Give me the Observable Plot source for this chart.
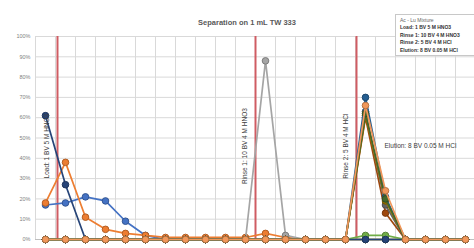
<!DOCTYPE html>
<html><head><meta charset="utf-8">
<script src="https://cdn.jsdelivr.net/npm/d3@7"></script>
<script src="https://cdn.jsdelivr.net/npm/@observablehq/plot@0.6"></script>
<style>
body{margin:0;background:#fff;font-family:"Liberation Sans",Arial,sans-serif}
#wrap{position:relative;width:474px;height:248px;overflow:hidden}
#legend{position:absolute;left:395px;top:14px;width:82px;height:42px;border:1px solid #c8c8c8;background:#fff;font-size:5px;line-height:7.4px;padding:2px 4px;box-sizing:border-box;color:#333;white-space:nowrap}
#legend div{font-weight:bold}
#legend div:first-child{font-weight:normal;color:#666}
</style></head><body><div id="wrap"><div id="legend"></div></div>
<script>
const titleText = "Separation on 1 mL TW 333";
const fractions = d3.range(1, 23);
const seriesNames = ["S1","S2","S3","S4","S5","S6","S7","S8","S9","S10","S11","S12","S13"];
const seriesColors = ["#4472C4","#ED7D31","#A5A5A5","#FFC000","#5B9BD5","#70AD47","#264478","#9E480E","#636363","#997300","#255E91","#43682B","#F1975A"];
const s1  = [17,18,21,19,9,2,0,0,0,0,0,0,0,0,0,0,0,0,0,0,0,0];
const s2  = [18,38,11,5,3,2,1,1,1,1,1,3,1,0,0,0,0,0,0,0,0,0];
const s3  = [0,0,0,0,0,0,0,0,0,0,0,88,2,0,0,0,0,0,0,0,0,0];
const s4  = [0,0,0,0,0,0,0,0,0,0,0,0,0,0,0,0,0,0,0,0,0,0];
const s5  = [0,0,0,0,0,0,0,0,0,0,0,0,0,0,0,0,0,0,0,0,0,0];
const s6  = [0,0,0,0,0,0,0,0,0,0,0,0,0,0,0,0,2,2,0,0,0,0];
const s7  = [61,27,0,0,0,0,0,0,0,0,0,0,0,0,0,0,0,0,0,0,0,0];
const s8  = [0,0,0,0,0,0,0,0,0,0,0,0,0,0,0,0,60,13,0,0,0,0];
const s9  = [0,0,0,0,0,0,0,0,0,0,0,0,0,0,0,0,63,17,0,0,0,0];
const s10 = [0,0,0,0,0,0,0,0,0,0,0,0,0,0,0,0,61,19,0,0,0,0];
const s11 = [0,0,0,0,0,0,0,0,0,0,0,0,0,0,0,0,70,21,0,0,0,0];
const s12 = [0,0,0,0,0,0,0,0,0,0,0,0,0,0,0,0,62,20,0,0,0,0];
const s13 = [0,0,0,0,0,0,0,0,0,0,0,0,0,0,0,0,66,24,0,0,0,0];
const seriesValues = [s1,s2,s3,s4,s5,s6,s7,s8,s9,s10,s11,s12,s13];
const stageLabels = ["Load: 1 BV 5 M HNO3","Rinse 1: 10 BV 4 M HNO3","Rinse 2: 5 BV 4 M HCl"];
const stageEnds = [1.6, 11.5, 16.55];
const elutionLabel = "Elution: 8 BV 0.05 M HCl";
const yTicks = d3.range(0, 101, 10);
const legendLines = ["Ac - Lu Mixture","Load: 1 BV 5 M HNO3","Rinse 1: 10 BV 4 M HNO3","Rinse 2: 5 BV 4 M HCl","Elution: 8 BV 0.05 M HCl"];

const data = seriesNames.flatMap((s, k) => seriesValues[k].map((v, i) => ({series: s, fraction: fractions[i], value: v})));
const stages = stageLabels.map((l, i) => ({label: l, x: stageEnds[i]}));

const seriesMarks = seriesNames.flatMap((s, k) => {
  const d = data.filter(r => r.series === s);
  const c = seriesColors[k];
  return [
    Plot.line(d, {x: "fraction", y: "value", stroke: c, strokeWidth: 1.7}),
    Plot.dot(d, {x: "fraction", y: "value", fill: c, stroke: d3.color(c).darker(0.8).formatHex(), strokeWidth: 1, r: 3.3})
  ];
});

const chart = Plot.plot({
  width: 474, height: 248,
  marginTop: 36, marginBottom: 9, marginLeft: 35, marginRight: 0,
  style: {fontFamily: "Liberation Sans, Arial, sans-serif", background: "#fff"},
  x: {domain: [0.5, 22.45], axis: null},
  y: {domain: [0, 100], axis: null},
  marks: [
    Plot.gridY(yTicks, {stroke: "#d9d9d9", strokeOpacity: 1}),
    Plot.gridX(d3.range(0.5, 23, 1), {stroke: "#d9d9d9", strokeOpacity: 1}),
    Plot.axisY(yTicks, {label: null, tickSize: 0, tickPadding: 5, fontSize: 5.5, fill: "#7f7f7f", tickFormat: d => d + "%"}),
    Plot.ruleY([0], {stroke: "#bfbfbf"}),
    Plot.ruleX(stages, {x: "x", y1: 0, y2: 100, stroke: "#cf5c63", strokeWidth: 2}),
    ...seriesMarks,
    Plot.text(stages, {x: "x", y: 46, text: "label", rotate: -90, dx: -11, fontSize: 6.5, fill: "#404040"}),
    Plot.text([elutionLabel], {x: stageEnds[2], y: 46, text: d => d, dx: 28, textAnchor: "start", fontSize: 6.5, fill: "#404040"}),
    Plot.text([titleText], {frameAnchor: "top", dy: -17, dx: -8, text: d => d, fontSize: 7.5, fontWeight: "bold", fill: "#595959"})
  ]
});
const wrap = document.getElementById("wrap");
wrap.insertBefore(chart, wrap.firstChild);
chart.style.position = "absolute"; chart.style.left = "0"; chart.style.top = "0";
document.getElementById("legend").innerHTML = legendLines.map(l => `<div>${l}</div>`).join("");
</script>
</body></html>
